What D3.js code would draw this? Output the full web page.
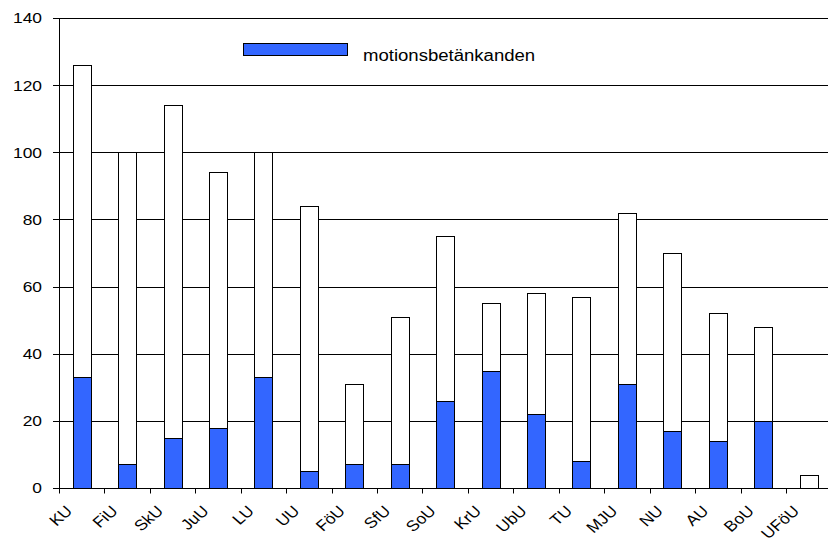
<!DOCTYPE html>
<html>
<head>
<meta charset="utf-8">
<script src="https://cdn.jsdelivr.net/npm/d3@7"></script>
<style>
  html, body { margin: 0; padding: 0; background: #fff; }
  svg { display: block; }
  text { font-family: "Liberation Sans", Arial, sans-serif; fill: #000; }
</style>
</head>
<body>
<svg id="chart" width="828" height="540"></svg>
<script>
// Utskott (committees)
const categories = ["KU", "FiU", "SkU", "JuU", "LU", "UU", "FöU", "SfU", "SoU",
                    "KrU", "UbU", "TU", "MJU", "NU", "AU", "BoU", "UFöU"];
// Total number of betänkanden per committee
const totals = [126, 100, 114, 94, 100, 84, 31, 51, 75, 55, 58, 57, 82, 70, 52, 48, 4];
// Of which motionsbetänkanden
const motions = [33, 7, 15, 18, 33, 5, 7, 7, 26, 35, 22, 8, 31, 17, 14, 20, 0];
const yTicks = [0, 20, 40, 60, 80, 100, 120, 140];
const legendLabel = "motionsbetänkanden";

(function draw() {
  const W = 828;
  const plotLeft = 59, plotRight = 831.4, plotTop = 18, plotBottom = 488;
  const stretch = 1.16; // horizontal widening of lettering
  const blue = "#3366ff";

  const svg = d3.select("#chart");

  const y = d3.scaleLinear().domain([0, 140]).range([plotBottom, plotTop]);
  // category bands (tick marks sit on band boundaries)
  const xBand = d3.scaleBand().domain(categories).range([plotLeft, plotRight]).padding(0);
  // bars occupy the middle of each band
  const xBar = d3.scaleBand().domain(categories).range([plotLeft, plotRight])
    .paddingInner(0.6).paddingOuter(0.3);

  const crisp = v => Math.round(v) + 0.5;

  // horizontal gridlines
  svg.append("g").selectAll("line").data(yTicks.filter(d => d > 0)).join("line")
    .attr("x1", plotLeft).attr("x2", W)
    .attr("y1", d => crisp(y(d))).attr("y2", d => crisp(y(d)))
    .attr("stroke", "#000").attr("stroke-width", 1);

  // y axis: line, ticks, labels
  const yAxis = svg.append("g");
  yAxis.append("line")
    .attr("x1", crisp(plotLeft)).attr("x2", crisp(plotLeft))
    .attr("y1", crisp(y(140))).attr("y2", crisp(y(0)))
    .attr("stroke", "#000");
  yAxis.selectAll("line.tick").data(yTicks).join("line")
    .attr("class", "tick")
    .attr("x1", plotLeft - 6).attr("x2", plotLeft)
    .attr("y1", d => crisp(y(d))).attr("y2", d => crisp(y(d)))
    .attr("stroke", "#000");
  yAxis.selectAll("text").data(yTicks).join("text")
    .attr("text-anchor", "end")
    .attr("font-size", 15)
    .attr("transform", d => `translate(42,${y(d) + 5.4}) scale(${stretch},1)`)
    .text(d => d);

  // bars: total (white) with motionsbetänkanden (blue) in front
  const bars = svg.append("g");
  bars.selectAll("rect.total").data(categories).join("rect")
    .attr("class", "total")
    .attr("x", d => crisp(xBar(d)))
    .attr("width", Math.round(xBar.bandwidth()))
    .attr("y", (d, i) => crisp(y(totals[i])))
    .attr("height", (d, i) => Math.round(y(0)) - Math.round(y(totals[i])))
    .attr("fill", "#fff").attr("stroke", "#000");
  bars.selectAll("rect.motion").data(categories.filter((d, i) => motions[i] > 0)).join("rect")
    .attr("class", "motion")
    .attr("x", d => crisp(xBar(d)))
    .attr("width", Math.round(xBar.bandwidth()))
    .attr("y", d => crisp(y(motions[categories.indexOf(d)])))
    .attr("height", d => Math.round(y(0)) - Math.round(y(motions[categories.indexOf(d)])))
    .attr("fill", blue).attr("stroke", "#000");

  // x axis: baseline, ticks at band boundaries, slanted labels
  const xAxis = svg.append("g");
  xAxis.append("line")
    .attr("x1", plotLeft).attr("x2", W)
    .attr("y1", crisp(y(0))).attr("y2", crisp(y(0)))
    .attr("stroke", "#000");
  xAxis.selectAll("line.tick").data(categories).join("line")
    .attr("class", "tick")
    .attr("x1", d => crisp(xBand(d))).attr("x2", d => crisp(xBand(d)))
    .attr("y1", crisp(y(0))).attr("y2", crisp(y(0)) + 5)
    .attr("stroke", "#000");
  const labelGroups = xAxis.selectAll("g.label").data(categories).join("g")
    .attr("class", "label")
    .attr("transform", d => `translate(${xBand(d) + 14.5},512) scale(${stretch},1)`);
  labelGroups.append("text")
    .attr("text-anchor", "end")
    .attr("font-size", 15)
    .attr("transform", "rotate(-45)")
    .text(d => d);

  // legend
  const legend = svg.append("g");
  legend.append("rect")
    .attr("x", 243.5).attr("y", 43.5).attr("width", 104).attr("height", 12)
    .attr("fill", blue).attr("stroke", "#000");
  legend.append("text")
    .attr("font-size", 16)
    .attr("transform", `translate(363,61) scale(${stretch},1)`)
    .text(legendLabel);
})();
</script>
</body>
</html>
